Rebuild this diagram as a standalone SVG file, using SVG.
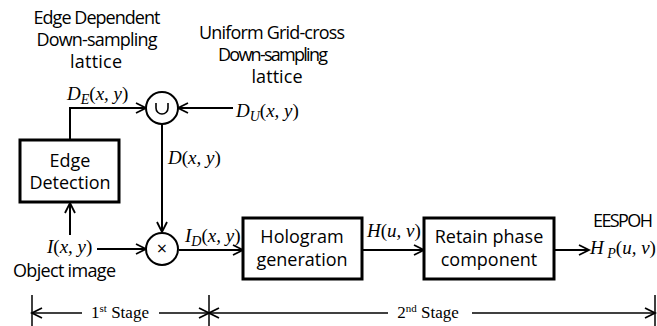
<svg xmlns="http://www.w3.org/2000/svg" width="657" height="326" viewBox="0 0 657 326">
<style>
.t{font-family:"Open Sans","Liberation Sans",sans-serif;font-size:18px;fill:#000}
.m{font-family:"Liberation Serif",serif;font-size:19px;font-style:italic;fill:#000}
.s{font-family:"Liberation Serif",serif;font-size:17px;fill:#000}
.box{fill:#fff;stroke:#000;stroke-width:3}
.c{fill:#fff;stroke:#000;stroke-width:2}
.ln{fill:none;stroke:#000;stroke-width:2}
.st{fill:none;stroke:#000;stroke-width:1.5}
</style>
<defs>
<marker id="a" markerUnits="userSpaceOnUse" markerWidth="14" markerHeight="14" refX="11" refY="6" orient="auto">
<path d="M1,1 L11,6 L1,11" fill="none" stroke="#000" stroke-width="1.8"/>
</marker>
</defs>
<rect width="657" height="326" fill="#fff"/>
<g id="labels">
<text class="t" x="97" y="24" text-anchor="middle" textLength="127">Edge Dependent</text>
<text class="t" x="97" y="46" text-anchor="middle" textLength="121">Down-sampling</text>
<text class="t" x="96" y="68" text-anchor="middle" textLength="52">lattice</text>
<text class="t" x="272" y="39" text-anchor="middle" textLength="146">Uniform Grid-cross</text>
<text class="t" x="273" y="61" text-anchor="middle" textLength="110">Down-sampling</text>
<text class="t" x="277" y="83" text-anchor="middle" textLength="51">lattice</text>
<text class="m" x="67" y="100">D<tspan font-size="14" dy="4">E</tspan><tspan dy="-4" font-style="normal">(</tspan>x, y<tspan font-style="normal">)</tspan></text>
<text class="m" x="236" y="117">D<tspan font-size="14" dy="4">U</tspan><tspan dy="-4" font-style="normal">(</tspan>x, y<tspan font-style="normal">)</tspan></text>
<text class="m" x="168" y="164">D<tspan font-style="normal">(</tspan>x, y<tspan font-style="normal">)</tspan></text>
<text class="m" x="47" y="253">I<tspan font-style="normal">(</tspan>x, y<tspan font-style="normal">)</tspan></text>
<text class="t" x="13" y="277" textLength="103">Object image</text>
<text class="m" x="185" y="242">I<tspan font-size="14" dy="4">D</tspan><tspan dy="-4" font-style="normal">(</tspan>x, y<tspan font-style="normal">)</tspan></text>
<text class="m" x="367" y="237">H<tspan font-style="normal">(</tspan>u, v<tspan font-style="normal">)</tspan></text>
<text class="t" x="623" y="227" text-anchor="middle" textLength="60">EESPOH</text>
<text class="m" x="590" y="254">H<tspan font-size="14" dy="4"> P</tspan><tspan dy="-4" font-style="normal">(</tspan>u, v<tspan font-style="normal">)</tspan></text>
</g>
<g id="connectors">
<polyline class="ln" points="70,140 70,108 146,108" marker-end="url(#a)"/>
<line class="ln" x1="233" y1="108" x2="178" y2="108" marker-end="url(#a)"/>
<line class="ln" x1="162" y1="124" x2="162" y2="232" marker-end="url(#a)"/>
<line class="ln" x1="97" y1="249" x2="146" y2="249" marker-end="url(#a)"/>
<line class="ln" x1="70" y1="235" x2="70" y2="203" marker-end="url(#a)"/>
<line class="ln" x1="179" y1="250" x2="243" y2="250" marker-end="url(#a)"/>
<line class="ln" x1="362" y1="250" x2="424" y2="250" marker-end="url(#a)"/>
<line class="ln" x1="554" y1="250" x2="589" y2="250" marker-end="url(#a)"/>
</g>
<g id="edge-detection">
<rect class="box" x="20" y="140" width="99" height="62"/>
<text class="t" x="70" y="167" text-anchor="middle">Edge</text>
<text class="t" x="70" y="189" text-anchor="middle">Detection</text>
</g>
<g id="union">
<circle class="c" cx="162" cy="108" r="16"/>
<path d="M156,103 V108 A6,6 0 0 0 168,108 V103" fill="none" stroke="#000" stroke-width="1.6"/>
</g>
<g id="multiply">
<circle class="c" cx="162" cy="249" r="16"/>
<text class="t" x="162" y="255" text-anchor="middle" font-size="16">×</text>
</g>
<g id="hologram">
<rect class="box" x="243" y="218" width="119" height="61"/>
<text class="t" x="302" y="243" text-anchor="middle">Hologram</text>
<text class="t" x="302" y="266" text-anchor="middle">generation</text>
</g>
<g id="retain">
<rect class="box" x="424" y="218" width="130" height="61"/>
<text class="t" x="489" y="243" text-anchor="middle">Retain phase</text>
<text class="t" x="489" y="266" text-anchor="middle">component</text>
</g>
<g id="stages">
<line class="st" x1="32" y1="295" x2="32" y2="326"/>
<line class="st" x1="209" y1="295" x2="209" y2="326"/>
<line class="st" x1="655" y1="295" x2="655" y2="326"/>
<line class="st" x1="82" y1="313" x2="32" y2="313" marker-end="url(#a)"/>
<line class="st" x1="159" y1="313" x2="209" y2="313" marker-end="url(#a)"/>
<line class="st" x1="388" y1="313" x2="209" y2="313" marker-end="url(#a)"/>
<line class="st" x1="472" y1="313" x2="655" y2="313" marker-end="url(#a)"/>
<text class="s" x="120" y="318" text-anchor="middle">1<tspan font-size="11" dy="-6">st</tspan><tspan dy="6"> Stage</tspan></text>
<text class="s" x="428" y="318" text-anchor="middle">2<tspan font-size="11" dy="-6">nd</tspan><tspan dy="6"> Stage</tspan></text>
</g>
</svg>
